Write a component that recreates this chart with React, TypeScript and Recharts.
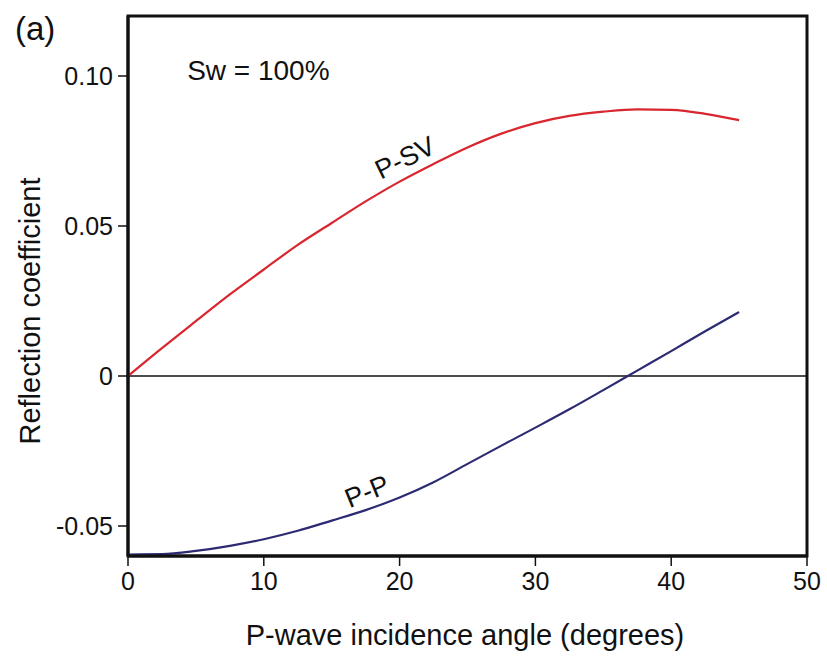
import React from "react";
import {
  LineChart,
  Line,
  XAxis,
  YAxis,
  ReferenceLine,
  ReferenceDot,
  ReferenceArea,
  Label,
} from "recharts";

const angles = [0, 2.5, 5, 7.5, 10, 12.5, 15, 17.5, 20, 22.5, 25, 27.5, 30, 32.5, 35, 37.5, 40, 42.5, 45];
const pSV = [0, 0.0093, 0.0183, 0.0272, 0.0355, 0.0437, 0.051, 0.0582, 0.0648, 0.0707, 0.0762, 0.0808, 0.0843, 0.0867, 0.0881, 0.0889, 0.0887, 0.0874, 0.0853];
const pP = [-0.0595, -0.0594, -0.0583, -0.0566, -0.0544, -0.0516, -0.0482, -0.0447, -0.0405, -0.0354, -0.0293, -0.0232, -0.0172, -0.0111, -0.0047, 0.0018, 0.0083, 0.0149, 0.0213];

const xTicks = [0, 10, 20, 30, 40, 50];
const yTicks = [-0.05, 0, 0.05, 0.1];
const yTickLabels = ["-0.05", "0", "0.05", "0.10"];

const data = angles.map((a, i) => ({ angle: a, psv: pSV[i], pp: pP[i] }));

const FONT = "'Liberation Sans', Arial, Helvetica, sans-serif";

const rotatedLabel = (text: string, angle: number, size: number) => (props: any) => {
  const vb = props.viewBox || {};
  const cx = vb.cx !== undefined ? vb.cx : vb.x + (vb.width || 0) / 2;
  const cy = vb.cy !== undefined ? vb.cy : vb.y + (vb.height || 0) / 2;
  return (
    <text
      x={cx}
      y={cy}
      transform={`rotate(${angle}, ${cx}, ${cy})`}
      textAnchor="middle"
      dominantBaseline="central"
      fontSize={size}
      fontFamily={FONT}
      fill="#111"
    >
      {text}
    </text>
  );
};

export default function App() {
  return (
    <div style={{ position: "absolute", left: 0, top: 0, width: 827, height: 660, background: "#fff" }}>
      <div
        style={{
          position: "absolute",
          left: 15,
          top: 12,
          fontSize: 33,
          lineHeight: 1,
          fontFamily: FONT,
          color: "#111",
        }}
      >
        (a)
      </div>
      <LineChart
        width={827}
        height={660}
        data={data}
        margin={{ top: 16, right: 20, bottom: 0, left: 0 }}
      >
        <XAxis
          dataKey="angle"
          type="number"
          domain={[0, 50]}
          ticks={xTicks}
          tickSize={10}
          tickMargin={6}
          height={104}
          axisLine={{ stroke: "#111", strokeWidth: 3 }}
          tickLine={{ stroke: "#111", strokeWidth: 1.5 }}
          tick={{ fontSize: 25, fill: "#111", fontFamily: FONT }}
        >
          <Label
            content={() => (
              <text
                x={465}
                y={645}
                textAnchor="middle"
                fontSize={29}
                fontFamily={FONT}
                fill="#111"
              >
                P-wave incidence angle (degrees)
              </text>
            )}
          />
        </XAxis>
        <YAxis
          type="number"
          domain={[-0.06, 0.12]}
          ticks={yTicks}
          allowDataOverflow
          width={128}
          tickSize={10}
          tickMargin={5}
          axisLine={{ stroke: "#111", strokeWidth: 3 }}
          tickLine={{ stroke: "#111", strokeWidth: 1.5 }}
          tick={{ fontSize: 25, fill: "#111", fontFamily: FONT }}
          tickFormatter={(v: number) => {
            const i = yTicks.findIndex((t) => Math.abs(t - v) < 1e-9);
            return i >= 0 ? yTickLabels[i] : String(v);
          }}
        >
          <Label
            content={() => (
              <text
                x={30}
                y={311}
                transform="rotate(-90, 30, 311)"
                textAnchor="middle"
                dominantBaseline="central"
                fontSize={29}
                fontFamily={FONT}
                fill="#111"
              >
                Reflection coefficient
              </text>
            )}
          />
        </YAxis>
        <ReferenceArea
          x1={0}
          x2={50}
          y1={-0.06}
          y2={0.12}
          fill="none"
          fillOpacity={0}
          stroke="#111"
          strokeWidth={3}
          ifOverflow="visible"
        />
        <ReferenceLine y={0} stroke="#111" strokeWidth={1.5} />
        <Line
          type="monotone"
          dataKey="psv"
          stroke="#d9262f"
          strokeWidth={2.2}
          dot={false}
          isAnimationActive={false}
        />
        <Line
          type="monotone"
          dataKey="pp"
          stroke="#2b2a72"
          strokeWidth={2.2}
          dot={false}
          isAnimationActive={false}
        />
        <ReferenceDot
          x={20.4}
          y={0.0727}
          r={0}
          fill="none"
          stroke="none"
          ifOverflow="visible"
          label={rotatedLabel("P-SV", -26, 27)}
        />
        <ReferenceDot
          x={17.6}
          y={-0.0385}
          r={0}
          fill="none"
          stroke="none"
          ifOverflow="visible"
          label={rotatedLabel("P-P", -22, 27)}
        />
        <ReferenceDot
          x={9.6}
          y={0.102}
          r={0}
          fill="none"
          stroke="none"
          ifOverflow="visible"
          label={rotatedLabel("Sw = 100%", 0, 28)}
        />
      </LineChart>
    </div>
  );
}
